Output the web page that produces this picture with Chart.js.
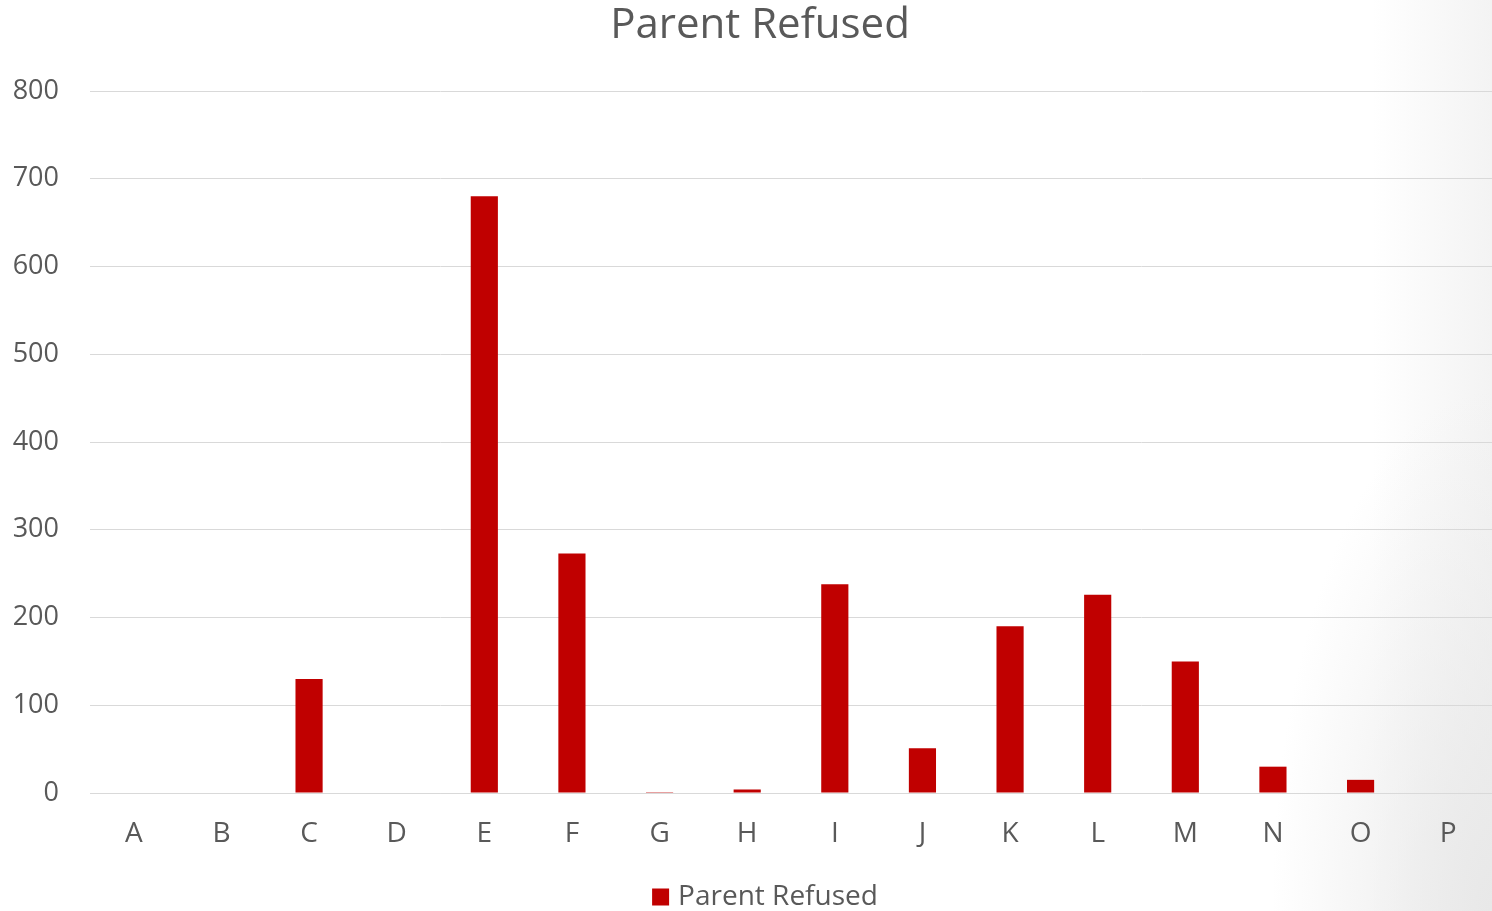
<!DOCTYPE html>
<html>
<head>
<meta charset="utf-8">
<script src="https://cdn.jsdelivr.net/npm/chart.js@4.4.1/dist/chart.umd.min.js"></script>
<style>
  html, body { margin: 0; padding: 0; }
  body {
    width: 1492px; height: 911px; overflow: hidden;
    background:
      radial-gradient(ellipse 220px 520px at 100% 100%, rgba(232,232,232,1) 0%, rgba(255,255,255,0) 100%),
      linear-gradient(to right, #ffffff 0%, #ffffff 92%, #f3f3f3 100%);
  }
  #wrap { position: relative; width: 1492px; height: 911px; }
</style>
</head>
<body>
<div id="wrap"><canvas id="chart"></canvas></div>
<script>
// categories and values
var categories = ['A', 'B', 'C', 'D', 'E', 'F', 'G', 'H', 'I', 'J', 'K', 'L', 'M', 'N', 'O', 'P'];
var parentRefused = [0, 0, 130, 0, 680, 273, 1, 4, 238, 51, 190, 226, 150, 30, 15, 0];
var yTicks = [0, 100, 200, 300, 400, 500, 600, 700, 800];
var chartTitle = 'Parent Refused';
var seriesName = 'Parent Refused';

var barColor = '#c00000';
var textColor = '#595959';
var fontFamily = '"Open Sans", "Noto Sans", sans-serif';

// title and legend sit a bit right of the canvas centre in the original,
// so both are drawn by hand instead of by the built-in plugins
var offsetTextPlugin = {
  id: 'offsetText',
  afterDraw: function (chart) {
    var c = chart.ctx;
    var mid = chart.width / 2 + 14;
    c.save();
    c.fillStyle = textColor;
    c.textBaseline = 'middle';

    c.font = '42px ' + fontFamily;
    c.textAlign = 'center';
    c.fillText(chartTitle, mid, 26);

    var label = chart.data.datasets[0].label;
    c.font = '28px ' + fontFamily;
    var box = 17, gap = 9;
    var w = box + gap + c.measureText(label).width;
    var x0 = mid + 5 - w / 2;
    var yMid = 897;
    c.fillStyle = chart.data.datasets[0].backgroundColor;
    c.fillRect(x0, yMid - box / 2, box, box);
    c.fillStyle = textColor;
    c.textAlign = 'left';
    c.fillText(label, x0 + box + gap, yMid);
    c.restore();
  }
};

var ctx = document.getElementById('chart').getContext('2d');
new Chart(ctx, {
  type: 'bar',
  data: {
    labels: categories,
    datasets: [{
      label: seriesName,
      data: parentRefused,
      backgroundColor: barColor,
      borderWidth: 0,
      barPercentage: 0.62,
      categoryPercentage: 0.5
    }]
  },
  plugins: [offsetTextPlugin],
  options: {
    responsive: true,
    maintainAspectRatio: false,
    animation: false,
    layout: { padding: { left: 0, right: 0, top: 91, bottom: 50 } },
    plugins: {
      title: { display: false },
      legend: { display: false },
      tooltip: { enabled: false }
    },
    scales: {
      x: {
        grid: { display: false, drawTicks: false },
        border: { display: true, color: '#d9d9d9', width: 1 },
        afterFit: function (axis) { axis.height = 68; },
        ticks: {
          color: textColor,
          font: { family: fontFamily, size: 28 },
          padding: 24
        }
      },
      y: {
        min: 0,
        max: 800,
        afterBuildTicks: function (axis) {
          axis.ticks = yTicks.map(function (v) { return { value: v }; });
        },
        afterFit: function (axis) { axis.width = 90; },
        grid: { color: '#d9d9d9', drawTicks: false },
        border: { display: false },
        ticks: {
          color: textColor,
          font: { family: fontFamily, size: 27 },
          padding: 31
        }
      }
    }
  }
});
</script>
</body>
</html>
